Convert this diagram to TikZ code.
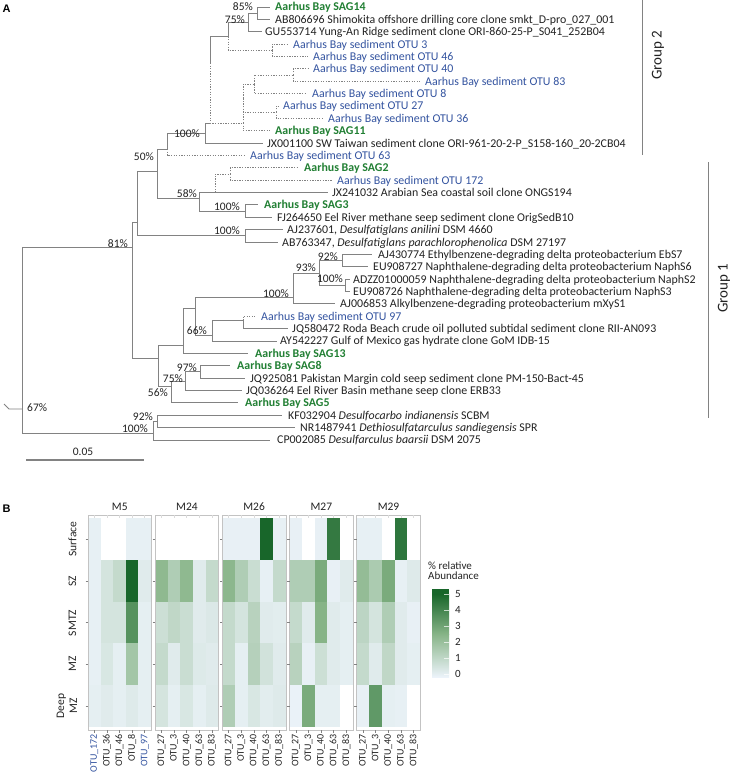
\documentclass[tikz,border=0pt]{standalone}
\usepackage{fontspec}
\setmainfont{Carlito}
\newfontfamily\panelfont{Liberation Sans}
\definecolor{grn}{RGB}{34,128,52}
\definecolor{blu}{RGB}{52,84,160}
\definecolor{txt}{RGB}{35,35,35}
\definecolor{brn}{RGB}{130,130,130}
\definecolor{hlo}{RGB}{236,243,250}
\definecolor{hmid}{RGB}{135,180,135}
\definecolor{hhi}{RGB}{24,102,42}
\definecolor{pbord}{RGB}{195,195,195}
\newcommand\leaf[6]{\coordinate (#1) at (#2,#3);\node[lab,#5] (#1t) at (#4,#3+4) {#6};}
\newcommand\bsl[4]{\node[bs] (#1) at (#2,#3+4) {#4\%};}
\newcommand\hmcell[4]{%
  \pgfmathsetmacro\hcx{88+67.2*#1+12.6*#3}%
  \pgfmathsetmacro\hcy{518+41.8*#2}%
  \ifdim #4pt<0pt\relax\else
    \ifdim #4pt>2.5pt\relax
      \pgfmathtruncatemacro\hpct{(#4-2.5)*40}%
      \fill[hhi!\hpct!hmid] (\hcx,\hcy) rectangle ++(12.7,41.9);%
    \else
      \pgfmathtruncatemacro\hpct{#4*40}%
      \fill[hmid!\hpct!hlo] (\hcx,\hcy) rectangle ++(12.7,41.9);%
    \fi
  \fi}
\newcommand\hmrow[7]{\hmcell{#1}{#2}{0}{#3}\hmcell{#1}{#2}{1}{#4}\hmcell{#1}{#2}{2}{#5}\hmcell{#1}{#2}{3}{#6}\hmcell{#1}{#2}{4}{#7}}
\begin{document}
\begin{tikzpicture}[x=1pt,y=-1pt,
  br/.style={draw=brn, line width=0.9pt},
  dsh/.style={draw=brn, line width=0.9pt, dash pattern=on 1.3pt off 1.3pt},
  lab/.style={anchor=base west, inner sep=0pt, text=txt, font=\fontsize{11.9}{12}\selectfont},
  grnlab/.style={text=grn, font=\fontsize{11.9}{12}\selectfont\bfseries},
  blulab/.style={text=blu},
  bs/.style={anchor=base east, inner sep=0pt, text=txt, font=\fontsize{11.5}{12}\selectfont},
  hm/.style={inner sep=0pt, text=txt, font=\fontsize{11.5}{12}\selectfont},
  collab/.style={inner sep=0pt, rotate=90, anchor=east, text=txt, font=\fontsize{10}{10}\selectfont},
  grp/.style={inner sep=0pt, rotate=90, text=txt, font=\fontsize{15}{15}\selectfont},
  pan/.style={inner sep=0pt, text=black, font=\panelfont\bfseries\fontsize{11}{11}\selectfont}
]
\fill[white] (0,0) rectangle (733,773);
\useasboundingbox (0,0) rectangle (733,773);

\node[pan] (pA) at (6.5,8.5) {A};
\node[pan] (pB) at (6.5,508.5) {B};

% ---------- leaves ----------
\leaf{L0}{270}{7.00}{275}{grnlab}{Aarhus Bay SAG14}
\leaf{L1}{270}{19.37}{275}{}{AB806696 Shimokita offshore drilling core clone smkt\_D-pro\_027\_001}
\leaf{L2}{262}{31.74}{265}{}{GU553714 Yung-An Ridge sediment clone ORI-860-25-P\_S041\_252B04}
\leaf{L3}{288}{44.11}{293}{blulab}{Aarhus Bay sediment OTU 3}
\leaf{L4}{308}{56.48}{313}{blulab}{Aarhus Bay sediment OTU 46}
\leaf{L5}{308}{68.85}{313}{blulab}{Aarhus Bay sediment OTU 40}
\leaf{L6}{420}{81.22}{425}{blulab}{Aarhus Bay sediment OTU 83}
\leaf{L7}{306}{93.59}{312}{blulab}{Aarhus Bay sediment OTU 8}
\leaf{L8}{279}{105.96}{283}{blulab}{Aarhus Bay sediment OTU 27}
\leaf{L9}{323}{118.33}{328}{blulab}{Aarhus Bay sediment OTU 36}
\leaf{L10}{270}{130.70}{275}{grnlab}{Aarhus Bay SAG11}
\leaf{L11}{263}{143.07}{267}{}{JX001100 SW Taiwan sediment clone ORI-961-20-2-P\_S158-160\_20-2CB04}
\leaf{L12}{245}{155.44}{250}{blulab}{Aarhus Bay sediment OTU 63}
\leaf{L13}{298}{167.81}{304}{grnlab}{Aarhus Bay SAG2}
\leaf{L14}{332}{180.18}{337}{blulab}{Aarhus Bay sediment OTU 172}
\leaf{L15}{328}{192.55}{332}{}{JX241032 Arabian Sea coastal soil clone ONGS194}
\leaf{L16}{258}{204.92}{264}{grnlab}{Aarhus Bay SAG3}
\leaf{L17}{272}{217.29}{277}{}{FJ264650 Eel River methane seep sediment clone OrigSedB10}
\leaf{L18}{283}{229.66}{287}{}{AJ237601, \textit{Desulfatiglans anilini} DSM 4660}
\leaf{L19}{278}{242.03}{282}{}{AB763347, \textit{Desulfatiglans parachlorophenolica} DSM 27197}
\leaf{L20}{372}{254.40}{378}{}{AJ430774 Ethylbenzene-degrading delta proteobacterium EbS7}
\leaf{L21}{368}{266.77}{373}{}{EU908727 Naphthalene-degrading delta proteobacterium NaphS6}
\leaf{L22}{350}{279.14}{353}{}{ADZZ01000059 Naphthalene-degrading delta proteobacterium NaphS2}
\leaf{L23}{350}{291.51}{353}{}{EU908726 Naphthalene-degrading delta proteobacterium NaphS3}
\leaf{L24}{335}{303.88}{340}{}{AJ006853 Alkylbenzene-degrading proteobacterium mXyS1}
\leaf{L25}{255}{316.25}{261}{blulab}{Aarhus Bay sediment OTU 97}
\leaf{L26}{288}{328.62}{292}{}{JQ580472 Roda Beach crude oil polluted subtidal sediment clone RII-AN093}
\leaf{L27}{277}{340.99}{280}{}{AY542227 Gulf of Mexico gas hydrate clone GoM IDB-15}
\leaf{L28}{248}{353.36}{255}{grnlab}{Aarhus Bay SAG13}
\leaf{L29}{230}{365.73}{237}{grnlab}{Aarhus Bay SAG8}
\leaf{L30}{245}{378.10}{250}{}{JQ925081 Pakistan Margin cold seep sediment clone PM-150-Bact-45}
\leaf{L31}{242}{390.47}{246}{}{JQ036264 Eel River Basin methane seep clone ERB33}
\leaf{L32}{238}{402.84}{245}{grnlab}{Aarhus Bay SAG5}
\leaf{L33}{282}{415.21}{288}{}{KF032904 \textit{Desulfocarbo indianensis} SCBM}
\leaf{L34}{295}{427.58}{300}{}{NR1487941 \textit{Dethiosulfatarculus sandiegensis} SPR}
\leaf{L35}{270}{439.95}{277}{}{CP002085 \textit{Desulfarculus baarsii} DSM 2075}

% ---------- internal nodes ----------
\coordinate (n85) at (257,13.2);
\coordinate (n75) at (248,22.5);
\coordinate (n346) at (272,50.3);
\coordinate (nA) at (228,36.4);
\coordinate (n4083) at (293,75);
\coordinate (nC) at (254,84.3);
\coordinate (nD) at (276,112.1);
\coordinate (nB1) at (243,98.2);
\coordinate (nB) at (243,123);
\coordinate (nX) at (210,63);
\coordinate (nXb) at (210,123);
\coordinate (n100) at (205,133);
\coordinate (n50) at (167,149);
\coordinate (n157) at (157,171);
\coordinate (n172) at (230,174);
\coordinate (nJX) at (215,192.55);
\coordinate (nSAG3) at (245,211.1);
\coordinate (n58) at (199,198);
\coordinate (nAJ) at (245,235.8);
\coordinate (n137) at (137,222);
\coordinate (N81) at (132,247);
\coordinate (n92) at (342,260.6);
\coordinate (n100c) at (345,285.3);
\coordinate (n93) at (319,273);
\coordinate (n100b) at (293,297);
\coordinate (nO97) at (243,320.5);
\coordinate (n66) at (212,335);
\coordinate (n195) at (195,308);
\coordinate (n183) at (183,345);
\coordinate (n97) at (200,371.9);
\coordinate (n75b) at (185,381.2);
\coordinate (n56) at (171,386);
\coordinate (n158) at (158,358);
\coordinate (nKF) at (157,421.4);
\coordinate (nOut) at (153,433);
\coordinate (root) at (22,409);
\coordinate (rstub) at (9,409);
\coordinate (rtip) at (4,404);

% ---------- branches ----------
\draw[br] (n85) |- (L0); \draw[br] (n85) |- (L1);
\draw[br] (n75) |- (n85); \draw[br] (n75) |- (L2);
\draw[br] (nA) |- (n75); \draw[dsh] (nA) |- (n346);
\draw[dsh] (n346) |- (L3); \draw[dsh] (n346) |- (L4);
\draw[dsh] (n4083) |- (L5); \draw[dsh] (n4083) |- (L6);
\draw[dsh] (nC) |- (n4083); \draw[dsh] (nC) |- (L7);
\draw[dsh] (nD) |- (L8); \draw[dsh] (nD) |- (L9);
\draw[dsh] (nB1) |- (nC); \draw[dsh] (nB1) |- (nD);
\draw[dsh] (nB) |- (nB1); \draw[dsh] (nB) |- (L10);
\draw[br] (nX) |- (nA); \draw[dsh] (nX) |- (nB);
\draw[br] (n100) |- (nXb); \draw[br] (n100) |- (L11);
\draw[br] (n50) |- (n100); \draw[dsh] (n50) |- (L12);
\draw[br] (n157) |- (n50); \draw[br] (n157) |- (n58);
\draw[dsh] (n172) |- (L13); \draw[dsh] (n172) |- (L14);
\draw[dsh] (nJX) |- (n172); \draw[br] (nJX) |- (L15);
\draw[br] (nSAG3) |- (L16); \draw[br] (nSAG3) |- (L17);
\draw[br] (n58) |- (nJX); \draw[br] (n58) |- (nSAG3);
\draw[br] (nAJ) |- (L18); \draw[br] (nAJ) |- (L19);
\draw[br] (n137) |- (n157); \draw[br] (n137) |- (nAJ);
\draw[br] (N81) |- (n137); \draw[br] (N81) |- (n158);
\draw[br] (n92) |- (L20); \draw[br] (n92) |- (L21);
\draw[br] (n100c) |- (L22); \draw[br] (n100c) |- (L23);
\draw[br] (n93) |- (n92); \draw[br] (n93) |- (n100c);
\draw[br] (n100b) |- (n93); \draw[br] (n100b) |- (L24);
\draw[dsh] (nO97) |- (L25); \draw[br] (nO97) |- (L26);
\draw[br] (n66) |- (nO97); \draw[br] (n66) |- (L27);
\draw[br] (n195) |- (n100b); \draw[br] (n195) |- (n66);
\draw[br] (n183) |- (n195); \draw[br] (n183) |- (L28);
\draw[br] (n97) |- (L29); \draw[br] (n97) |- (L30);
\draw[br] (n75b) |- (n97); \draw[br] (n75b) |- (L31);
\draw[br] (n56) |- (n75b); \draw[br] (n56) |- (L32);
\draw[br] (n158) |- (n183); \draw[br] (n158) |- (n56);
\draw[br] (nKF) |- (L33); \draw[br] (nKF) |- (L34);
\draw[br] (nOut) |- (nKF); \draw[br] (nOut) |- (L35);
\draw[br] (root) |- (N81); \draw[br] (root) |- (nOut);
\draw[br] (rtip) -- (rstub) -- (root);

% ---------- bootstrap ----------
\bsl{b85}{253}{7}{85}
\bsl{b75}{245}{20}{75}
\bsl{b100a}{200}{133}{100}
\bsl{b50}{154}{156}{50}
\bsl{b58}{197}{193}{58}
\bsl{b100b}{240}{206}{100}
\bsl{b100c}{240}{230}{100}
\bsl{b81}{128}{243}{81}
\bsl{b92}{338}{256}{92}
\bsl{b93}{316}{267}{93}
\bsl{b100d}{343}{278}{100}
\bsl{b100e}{289}{293}{100}
\bsl{b66}{207}{330}{66}
\bsl{b97}{197}{367}{97}
\bsl{b75b}{183}{378}{75}
\bsl{b56}{168}{392}{56}
\node[bs, anchor=base west] (b67) at (27,411) {67\%};
\bsl{b92b}{153}{416}{92}
\bsl{b100f}{148}{428}{100}

% ---------- scale bar ----------
\coordinate (sb1) at (26,460); \coordinate (sb2) at (144,460);
\draw[br, line width=1.1pt] (sb1) -- (sb2);
\node[hm] (sbl) at (83,452) {0.05};

% ---------- groups ----------
\coordinate (g2a) at (642,0); \coordinate (g2b) at (642,155);
\draw[draw=brn, line width=1pt] (g2a) -- (g2b);
\node[grp] (g2) at (658,55) {Group 2};
\coordinate (g1a) at (708,162); \coordinate (g1b) at (708,418);
\draw[draw=brn, line width=1pt] (g1a) -- (g1b);
\node[grp] (g1) at (724,288) {Group 1};

% ---------- heatmap ----------
\hmrow{0}{0}{0.15}{-1}{-1}{0.15}{0.15}
\hmrow{0}{1}{0.15}{0.6}{1.0}{5.0}{0.3}
\hmrow{0}{2}{0.15}{0.6}{0.6}{3.6}{0.2}
\hmrow{0}{3}{0.15}{0.5}{0.2}{1.8}{0.2}
\hmrow{0}{4}{0.2}{0.3}{0.2}{0.35}{0.2}
\hmrow{1}{0}{-1}{-1}{-1}{-1}{-1}
\hmrow{1}{1}{2.3}{1.5}{2.3}{0.3}{1.0}
\hmrow{1}{2}{0.8}{1.1}{0.9}{0.3}{0.45}
\hmrow{1}{3}{1.0}{0.3}{0.9}{0.4}{0.3}
\hmrow{1}{4}{0.6}{0.2}{0.5}{0.2}{0.35}
\hmrow{2}{0}{0.1}{0.1}{0.1}{5.0}{0.15}
\hmrow{2}{1}{2.4}{1.5}{0.9}{0.15}{1.0}
\hmrow{2}{2}{1.0}{0.6}{1.3}{0.3}{0.25}
\hmrow{2}{3}{1.0}{0.2}{1.4}{0.7}{0.3}
\hmrow{2}{4}{1.5}{0.2}{0.5}{0.25}{0.35}
\hmrow{3}{0}{0.1}{-1}{0.1}{4.4}{-1}
\hmrow{3}{1}{1.5}{1.5}{2.8}{0.1}{0.3}
\hmrow{3}{2}{1.0}{0.3}{2.5}{0.3}{0.2}
\hmrow{3}{3}{1.3}{0.1}{0.8}{0.3}{0.2}
\hmrow{3}{4}{0.05}{2.8}{0.2}{0.2}{-1}
\hmrow{4}{0}{0.15}{0.15}{-1}{4.5}{-1}
\hmrow{4}{1}{2.2}{1.6}{2.8}{0.15}{0.35}
\hmrow{4}{2}{1.2}{0.6}{1.5}{0.3}{0.1}
\hmrow{4}{3}{1.0}{0.3}{1.1}{0.3}{0.2}
\hmrow{4}{4}{0.1}{3.4}{0.2}{0.15}{-1}

\foreach \i/\t in {0/M5,1/M24,2/M26,3/M27,4/M29}{
  \pgfmathsetmacro\pl{88+67.2*\i}
  \draw[pbord, line width=0.8pt] (\pl,515) rectangle ++(63.5,215);
  \node[hm] (title\i) at (\pl+31.75,507) {\t};
  \foreach \r in {0,...,4}{
    \draw[brn, line width=0.6pt] (\pl-2.5,539+41.8*\r) -- (\pl,539+41.8*\r);
  }
  \foreach \c in {0,...,4}{
    \draw[brn, line width=0.6pt] (\pl+6.3+12.6*\c,730) -- (\pl+6.3+12.6*\c,732.5);
    \draw[pbord!60, line width=0.5pt] (\pl+6.3+12.6*\c,515) -- (\pl+6.3+12.6*\c,517.5);
  }
}
% column labels
\node[collab, text=blu] (c00) at (94.3,734) {OTU\_172};
\node[collab] (c01) at (106.9,734) {OTU\_36};
\node[collab] (c02) at (119.5,734) {OTU\_46};
\node[collab] (c03) at (132.1,734) {OTU\_8};
\node[collab, text=blu] (c04) at (144.7,734) {OTU\_97};
\foreach \i in {1,...,4}{
  \pgfmathsetmacro\pl{88+67.2*\i}
  \foreach \c/\t in {0/OTU\_27,1/OTU\_3,2/OTU\_40,3/OTU\_63,4/OTU\_83}{
    \node[collab] (c\i\c) at (\pl+6.3+12.6*\c,734) {\t};
  }
}
% row labels
\node[hm, rotate=90] (r0) at (72.5,539) {Surface};
\node[hm, rotate=90] (r1) at (72.5,581) {SZ};
\node[hm, rotate=90] (r2) at (72.5,623) {SMTZ};
\node[hm, rotate=90] (r3) at (72.5,664) {MZ};
\node[hm, rotate=90, align=center, font=\fontsize{11.5}{13}\selectfont] (r4) at (67,706) {Deep\\MZ};

% legend
\node[hm, anchor=north west, align=left, font=\fontsize{11}{10}\selectfont] (lg) at (428,562) {\% relative\\Abundance};
\shade[bottom color=hlo, top color=hmid] (432,677) rectangle (449,634);
\shade[bottom color=hmid, top color=hhi] (432,634.2) rectangle (449,594);
\fill[hhi] (432,594.2) rectangle (449,589);
\foreach \v in {0,...,5}{
  \draw[white, opacity=0.7, line width=0.6pt] (444,674-16*\v) -- (449,674-16*\v);
  \node[hm, anchor=west, font=\fontsize{11}{11}\selectfont] (lv\v) at (455,674-16*\v) {\v};
}
\end{tikzpicture}
\end{document}
